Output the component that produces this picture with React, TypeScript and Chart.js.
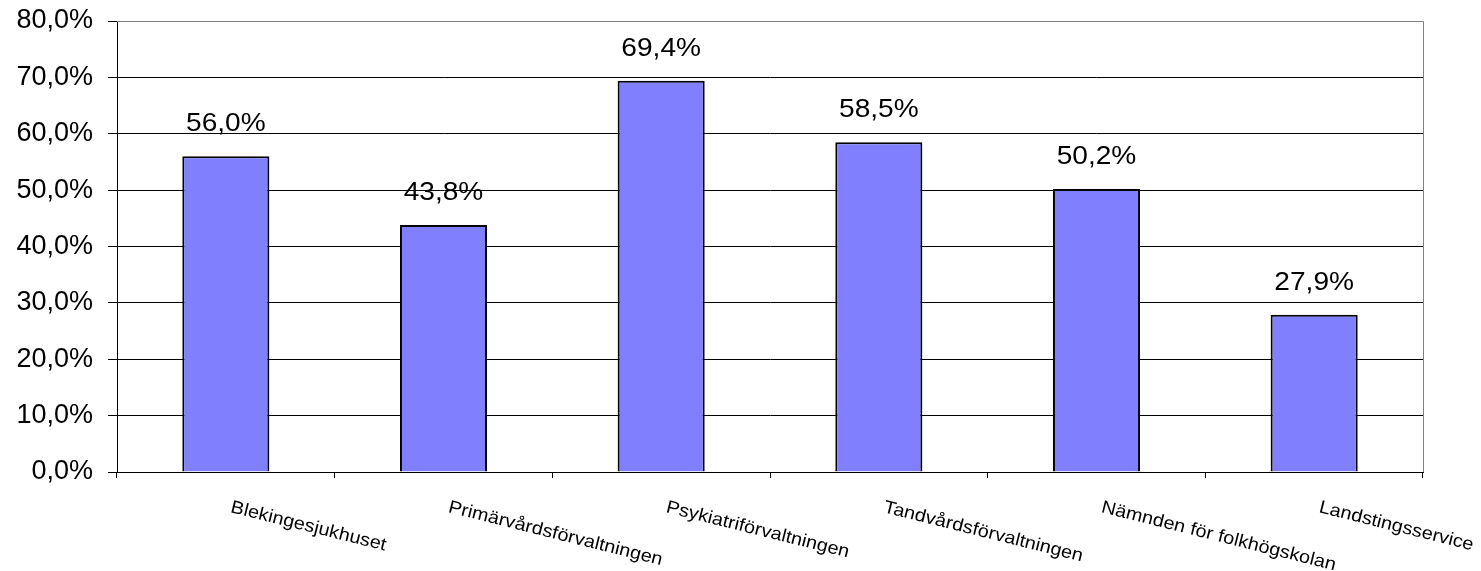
import React, { useEffect, useRef } from "react";
import { Chart, registerables } from "chart.js";

Chart.register(...registerables);

const categories = [
  "Blekingesjukhuset",
  "Primärvårdsförvaltningen",
  "Psykiatriförvaltningen",
  "Tandvårdsförvaltningen",
  "Nämnden för folkhögskolan",
  "Landstingsservice",
];
const values = [56.0, 43.8, 69.4, 58.5, 50.2, 27.9];
const yMin = 0;
const yMax = 80;
const yStep = 10;

const FONT = "'Liberation Sans', Arial, Helvetica, sans-serif";

const fmt = (v: number) => v.toFixed(1).replace(".", ",") + "%";

const customDraw = {
  id: "customDraw",
  beforeDatasetsDraw(chart: any) {
    const { ctx, chartArea } = chart;
    ctx.save();
    ctx.strokeStyle = "#808080";
    ctx.lineWidth = 1;
    ctx.beginPath();
    ctx.moveTo(chartArea.left, chartArea.top + 0.5);
    ctx.lineTo(chartArea.right + 0.5, chartArea.top + 0.5);
    ctx.lineTo(chartArea.right + 0.5, chartArea.bottom);
    ctx.stroke();
    ctx.restore();
  },
  afterDraw(chart: any) {
    const { ctx } = chart;
    const xScale = chart.scales.x;
    const meta = chart.getDatasetMeta(0);
    ctx.save();
    ctx.fillStyle = "#000";
    ctx.font = `26px ${FONT}`;
    ctx.textAlign = "center";
    ctx.textBaseline = "alphabetic";
    meta.data.forEach((el: any, i: number) => {
      ctx.save();
      ctx.translate(el.x, el.y - 25);
      ctx.scale(1.08, 1);
      ctx.fillText(fmt(values[i]), 0, 0);
      ctx.restore();
    });
    ctx.font = `18px ${FONT}`;
    ctx.textAlign = "left";
    categories.forEach((c, i) => {
      const x = xScale.getPixelForValue(i) + 4;
      const y = 512;
      ctx.save();
      ctx.translate(x, y);
      ctx.rotate((14 * Math.PI) / 180);
      ctx.scale(1.1, 1);
      ctx.fillText(c, 0, 0);
      ctx.restore();
    });
    ctx.restore();
  },
};

export default function App() {
  const ref = useRef<HTMLCanvasElement | null>(null);
  useEffect(() => {
    const canvas = ref.current;
    if (!canvas) return;
    const chart = new Chart(canvas, {
      type: "bar",
      data: {
        labels: categories,
        datasets: [
          {
            data: values,
            backgroundColor: "#8080FF",
            borderColor: "#000000",
            borderWidth: 2,
            barPercentage: 0.4,
            categoryPercentage: 1,
          },
        ],
      },
      options: {
        animation: false,
        responsive: false,
        maintainAspectRatio: false,
        layout: { padding: { top: 21, right: 58, left: 0, bottom: 0 } },
        plugins: {
          legend: { display: false },
          tooltip: { enabled: false },
          title: { display: false },
        },
        scales: {
          x: {
            offset: true,
            grid: {
              offset: true,
              drawOnChartArea: false,
              drawTicks: true,
              tickLength: 6,
              color: "#000",
            },
            border: { color: "#000", width: 1 },
            ticks: { display: false },
            afterFit: (s: any) => {
              s.height = 99;
            },
          },
          y: {
            min: yMin,
            max: yMax,
            ticks: {
              stepSize: yStep,
              color: "#000",
              font: { family: FONT, size: 27, lineHeight: 0.4 },
              padding: 15,
              callback: (v: any) => fmt(Number(v)),
            },
            grid: {
              color: (c: any) => (c.tick && c.tick.value === yMax ? "#808080" : "#000"),
              tickColor: "#000",
              tickLength: 9,
              drawTicks: true,
            },
            border: { color: "#000", width: 1 },
            afterFit: (s: any) => {
              s.width = 117;
            },
          },
        },
      },
      plugins: [customDraw],
    });
    return () => chart.destroy();
  }, []);
  return (
    <div style={{ position: "fixed", left: 0, top: 0, width: 1481, height: 571, background: "#fff" }}>
      <canvas ref={ref} width={1481} height={571} style={{ width: 1481, height: 571 }} />
    </div>
  );
}
